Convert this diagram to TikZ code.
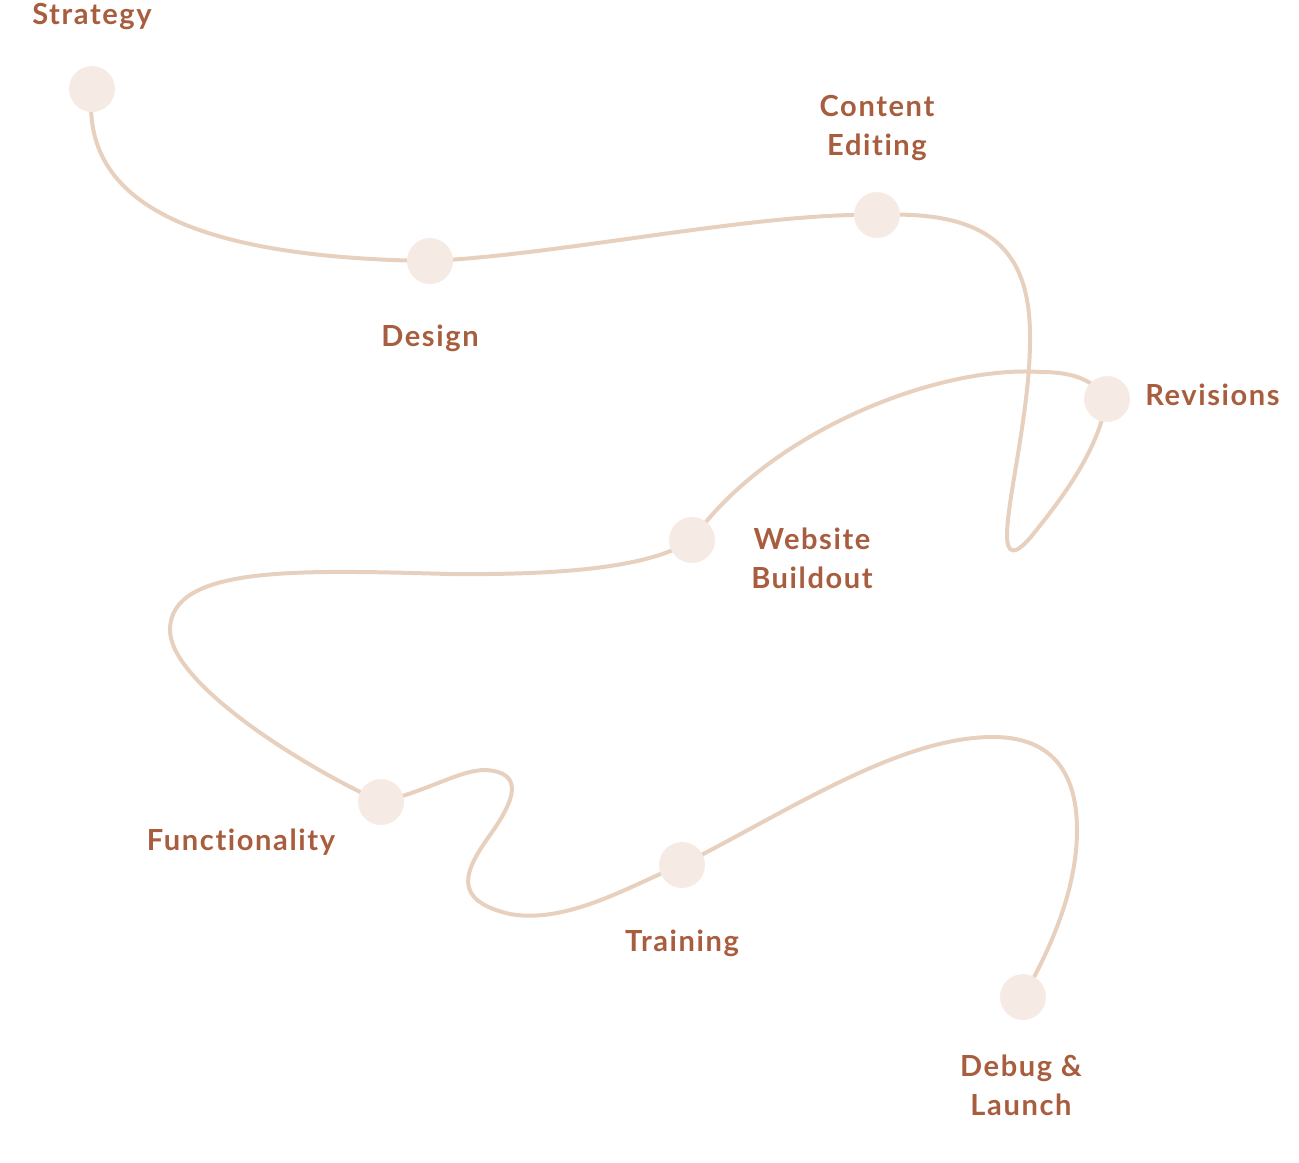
\documentclass[tikz,border=0pt]{standalone}
\usepackage{fontspec}
\setmainfont{Lato}[Ligatures=NoCommon, LetterSpace=5.5]
\usetikzlibrary{backgrounds}

\definecolor{labelbrown}{HTML}{A85E3E}
\definecolor{roadtan}{HTML}{E8D0BE}
\definecolor{dotfill}{HTML}{F5EBE4}

\tikzset{
  stop/.style={circle, fill=dotfill, minimum size=34.5pt, inner sep=0pt},
  steplabel/.style={text=labelbrown, inner sep=0pt, align=center,
    font=\fontsize{21.8}{28.9}\selectfont\bfseries},
  road/.style={draw=roadtan, line width=3pt, line cap=round},
}

\begin{document}
\begin{tikzpicture}[x=0.75pt, y=-0.75pt]
  \useasboundingbox (0,0) rectangle (1299,1163);

  % stops along the road
  \node[stop] (strategy) at (92,89) {};
  \node[stop] (design) at (430,261) {};
  \node[stop] (content) at (877,215) {};
  \node[stop] (revisions) at (1107,399) {};
  \node[stop] (website) at (692,540) {};
  \node[stop] (function) at (381,802) {};
  \node[stop] (training) at (682,865) {};
  \node[stop] (debug) at (1023,997) {};

  % labels
  \node[steplabel, anchor=base] (strategy-l) at (92,25) {Strategy};
  \node[steplabel, anchor=base] (design-l) at (430,346) {Design};
  \node[steplabel, anchor=north] (content-l) at (877,95) {Content\\Editing};
  \node[steplabel, anchor=base west] (revisions-l) at (1145,405.5) {Revisions};
  \node[steplabel, anchor=north] (website-l) at (812,528) {Website\\Buildout};
  \node[steplabel, anchor=base] (function-l) at (241,850) {Functionality};
  \node[steplabel, anchor=base] (training-l) at (682,951.5) {Training};
  \node[steplabel, anchor=north] (debug-l) at (1021,1055) {Debug \&\\Launch};

  \begin{pgfonlayer}{background}
    \draw[road] (strategy.center)
      .. controls (78,215) and (220,258) .. (design.center)
      .. controls (560,255) and (760,212) .. (content.center)
      .. controls (990,210) and (1031,250) .. (1030,340)
      .. controls (1030,410) and (1007,500) .. (1007,535)
      .. controls (1007,555) and (1015,555) .. (1030,538)
      .. controls (1065,495) and (1098,450) .. (revisions.center)
      .. controls (1092,378) and (1070,372) .. (1040,372)
      .. controls (940,365) and (770,430) .. (website.center)
      .. controls (650,568) and (560,575) .. (450,574)
      .. controls (300,570) and (170,565) .. (170,630)
      .. controls (170,680) and (290,760) .. (function.center)
      .. controls (430,790) and (460,770) .. (485,770)
      .. controls (525,772) and (515,800) .. (490,835)
      .. controls (465,870) and (450,900) .. (510,914)
      .. controls (570,925) and (640,880) .. (training.center)
      .. controls (790,810) and (900,737) .. (993,737)
      .. controls (1065,737) and (1077,790) .. (1077,830)
      .. controls (1077,890) and (1050,950) .. (debug.center);
  \end{pgfonlayer}
\end{tikzpicture}
\end{document}
